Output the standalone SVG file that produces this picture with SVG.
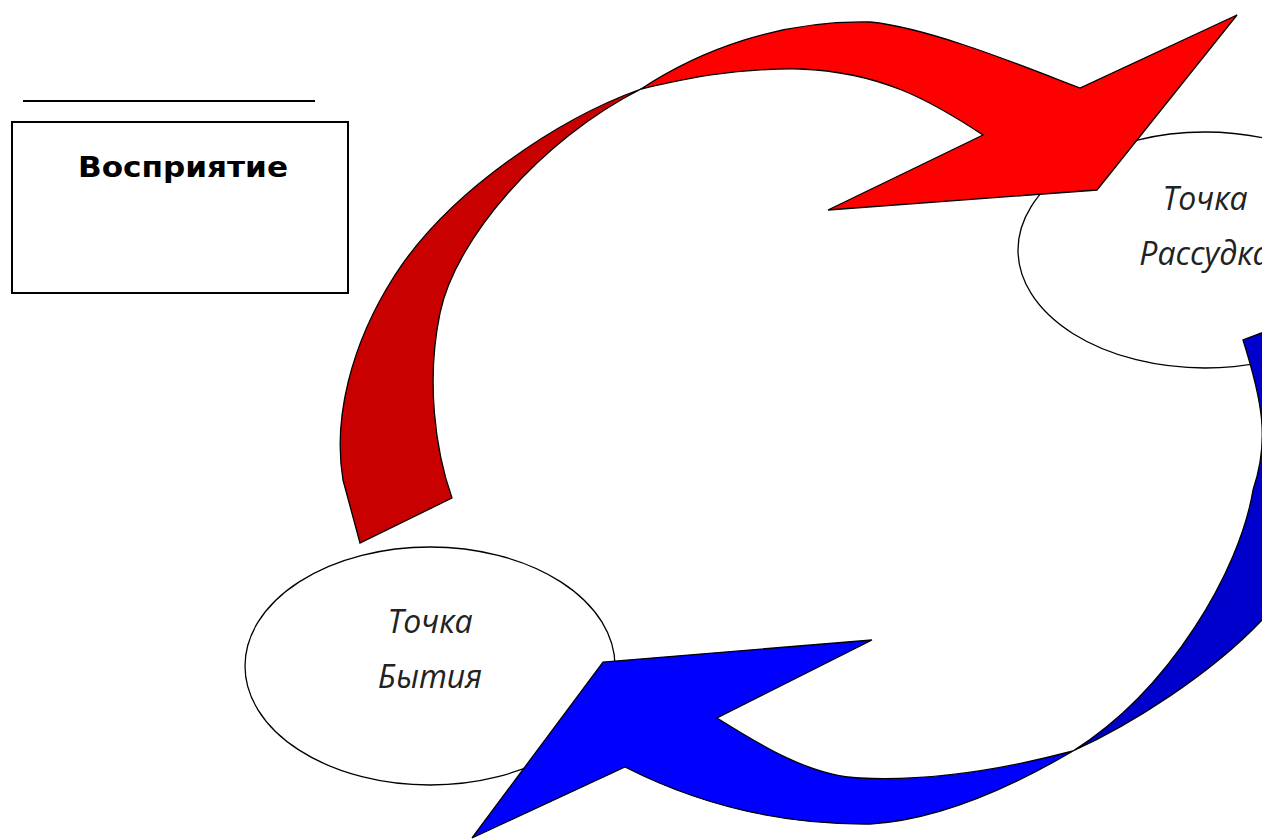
<svg xmlns="http://www.w3.org/2000/svg" width="1262" height="840" viewBox="0 0 1262 840">
  <style>
    .ell { fill: #ffffff; stroke: #000000; stroke-width: 1.3; }
    .lbl { font-family: "Open Sans", "Liberation Sans", sans-serif; font-style: italic; font-size: 32px; fill: #222222; text-anchor: middle; }
    .box { fill: #ffffff; stroke: #000000; stroke-width: 2; }
    .title { font-family: "DejaVu Sans", "Liberation Sans", sans-serif; font-weight: bold; font-size: 29px; fill: #000000; }
    .arr { stroke: #000000; stroke-width: 1.3; stroke-linejoin: miter; }
    .red-back { fill: #C80000; }
    .red-front { fill: #FF0000; }
    .blue-back { fill: #0000CC; }
    .blue-front { fill: #0000FF; }
  </style>
  <rect x="0" y="0" width="1262" height="840" fill="#ffffff"/>

  <g id="perception">
    <line x1="23" y1="101" x2="315" y2="101" stroke="#000000" stroke-width="2"/>
    <rect class="box" x="12" y="122" width="336" height="171"/>
    <text class="title" x="78" y="177" textLength="210" lengthAdjust="spacingAndGlyphs">Восприятие</text>
  </g>

  <g id="node-bytie">
    <ellipse class="ell" cx="430" cy="666" rx="185" ry="119"/>
    <text class="lbl" x="430" y="633">Точка</text>
    <text class="lbl" x="430" y="688">Бытия</text>
  </g>

  <g id="node-rassudok">
    <ellipse class="ell" cx="1205" cy="250" rx="187" ry="118"/>
    <text class="lbl" x="1205" y="210">Точка</text>
    <text class="lbl" x="1205" y="265">Рассудка</text>
  </g>

  <g id="connectors">
    <g id="arrow-red">
      <path class="arr red-back" d="M641,89 C560,118 450,190 395,275 C350,345 333,420 343,480 L360,543 L452,498 C435,450 426,380 440,313 C455,240 540,140 641,89 Z"/>
      <path class="arr red-front" d="M641,89 C700,50 780,20 870,22 C930,28 1020,65 1080,88 L1237,15 L1097,190 L828,210 L983,135 C930,100 880,72 800,69 C730,68 680,80 641,89 Z"/>
    </g>
    <g id="arrow-blue">
      <path class="arr blue-back" d="M1073,751 C1130,725 1210,675 1262,620 C1300,570 1310,420 1290,322 L1243,340 C1262,400 1270,440 1253,490 C1240,570 1170,690 1073,751 Z"/>
      <path class="arr blue-front" d="M1073,751 C1020,765 940,782 860,778 C810,776 760,745 717,718 L872,640 L603,662 L472,838 L625,767 C680,795 760,825 870,824 C940,820 1015,785 1073,751 Z"/>
    </g>
  </g>
</svg>
